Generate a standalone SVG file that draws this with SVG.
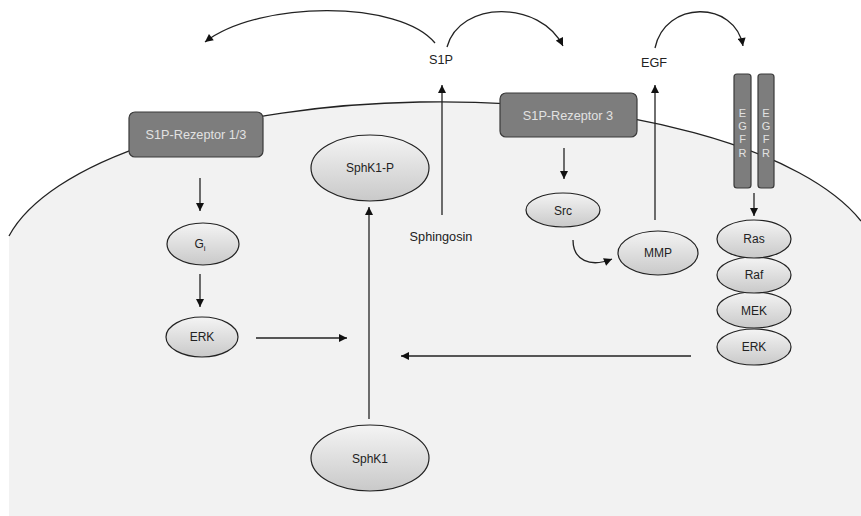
<svg xmlns="http://www.w3.org/2000/svg" width="861" height="516" viewBox="0 0 861 516">
<defs>
<linearGradient id="eg" x1="0" y1="0" x2="0" y2="1">
<stop offset="0" stop-color="#f4f4f4"/>
<stop offset="1" stop-color="#c9c9c9"/>
</linearGradient>
<marker id="ah" viewBox="0 0 10 10" refX="10" refY="5" markerWidth="9" markerHeight="8" markerUnits="userSpaceOnUse" orient="auto">
<path d="M0,0 L10,5 L0,10 z" fill="#111"/>
</marker>
<style>
.cn{fill:none;stroke:#222;stroke-width:1.3;marker-end:url(#ah)}
.el{fill:url(#eg);stroke:#222;stroke-width:1.2}
.bx{fill:#7d7d7d;stroke:#3a3a3a;stroke-width:1.2}
.t{font-family:"Liberation Sans",Arial,sans-serif;font-size:12px;fill:#222;text-anchor:middle;dominant-baseline:central}
.tb{font-family:"Liberation Sans",Arial,sans-serif;font-size:12.7px;fill:#e2e2e2;text-anchor:middle;dominant-baseline:central}
.tl{font-family:"Liberation Sans",Arial,sans-serif;font-size:12.7px;fill:#222;text-anchor:middle;dominant-baseline:central}
.te{font-family:"Liberation Sans",Arial,sans-serif;font-size:11px;fill:#e2e2e2;text-anchor:middle;dominant-baseline:central}
</style>
</defs>
<rect width="861" height="516" fill="#ffffff"/>
<g id="cell">
<path d="M9,236 A440,168 0 0 1 861,221 L861,516 L9,516 Z" fill="#f2f2f2"/>
<path d="M9,236 A440,168 0 0 1 861,221" fill="none" stroke="#222" stroke-width="1.3"/>
</g>
<g id="connectors">
<path class="cn" d="M435,43 C400,0 260,0 205,42"/>
<path class="cn" d="M447,47 C460,0 540,0 563,46"/>
<path class="cn" d="M655,48 C665,0 735,0 743,46"/>
<path class="cn" d="M573,240 C573,260 590,268 612,259"/>
<path class="cn" d="M200,178 L200,211"/>
<path class="cn" d="M200,274 L200,307"/>
<path class="cn" d="M256,338 L347,338"/>
<path class="cn" d="M369,419 L369,207"/>
<path class="cn" d="M691,356 L401,356"/>
<path class="cn" d="M442,215 L442,85"/>
<path class="cn" d="M655,220 L655,85"/>
<path class="cn" d="M564,148 L564,179"/>
<path class="cn" d="M754,193 L754,216"/>
</g>
<g id="s1p"><text class="tl" x="441" y="60">S1P</text></g>
<g id="egf"><text class="tl" x="654" y="63">EGF</text></g>
<g id="sphingosin"><text class="tl" x="441" y="237">Sphingosin</text></g>
<g id="rez13">
<rect class="bx" x="129" y="112" width="134" height="45" rx="6"/>
<text class="tb" x="196" y="135">S1P-Rezeptor 1/3</text>
</g>
<g id="rez3">
<rect class="bx" x="500" y="93" width="137" height="44" rx="6"/>
<text class="tb" x="568" y="116">S1P-Rezeptor 3</text>
</g>
<g id="egfr1">
<rect class="bx" x="734" y="74" width="17" height="114" rx="3"/>
<text class="te" x="742.5" y="113">E</text><text class="te" x="742.5" y="126">G</text><text class="te" x="742.5" y="139">F</text><text class="te" x="742.5" y="153">R</text>
</g>
<g id="egfr2">
<rect class="bx" x="758" y="74" width="16" height="114" rx="3"/>
<text class="te" x="766" y="113">E</text><text class="te" x="766" y="126">G</text><text class="te" x="766" y="139">F</text><text class="te" x="766" y="153">R</text>
</g>
<g id="sphk1p">
<ellipse class="el" cx="370" cy="168" rx="59" ry="33"/>
<text class="t" x="370" y="168">SphK1-P</text>
</g>
<g id="gi">
<ellipse class="el" cx="203" cy="244" rx="36" ry="21"/>
<text class="t" x="200" y="244">G<tspan font-size="8" dy="4">i</tspan></text>
</g>
<g id="erk1">
<ellipse class="el" cx="202" cy="337" rx="36" ry="20"/>
<text class="t" x="202" y="337">ERK</text>
</g>
<g id="sphk1">
<ellipse class="el" cx="370" cy="458" rx="59" ry="33"/>
<text class="t" x="370" y="459">SphK1</text>
</g>
<g id="src">
<ellipse class="el" cx="563" cy="210" rx="37" ry="17"/>
<text class="t" x="563" y="211">Src</text>
</g>
<g id="mmp">
<ellipse class="el" cx="658" cy="253" rx="40" ry="22"/>
<text class="t" x="658" y="253">MMP</text>
</g>
<g id="erk2">
<ellipse class="el" cx="754" cy="347" rx="37" ry="18"/>
<text class="t" x="754" y="347">ERK</text>
</g>
<g id="mek">
<ellipse class="el" cx="754" cy="310" rx="37" ry="18"/>
<text class="t" x="754" y="311">MEK</text>
</g>
<g id="raf">
<ellipse class="el" cx="754" cy="275" rx="37" ry="18"/>
<text class="t" x="754" y="275">Raf</text>
</g>
<g id="ras">
<ellipse class="el" cx="754" cy="239" rx="37" ry="19"/>
<text class="t" x="754" y="239">Ras</text>
</g>
</svg>
